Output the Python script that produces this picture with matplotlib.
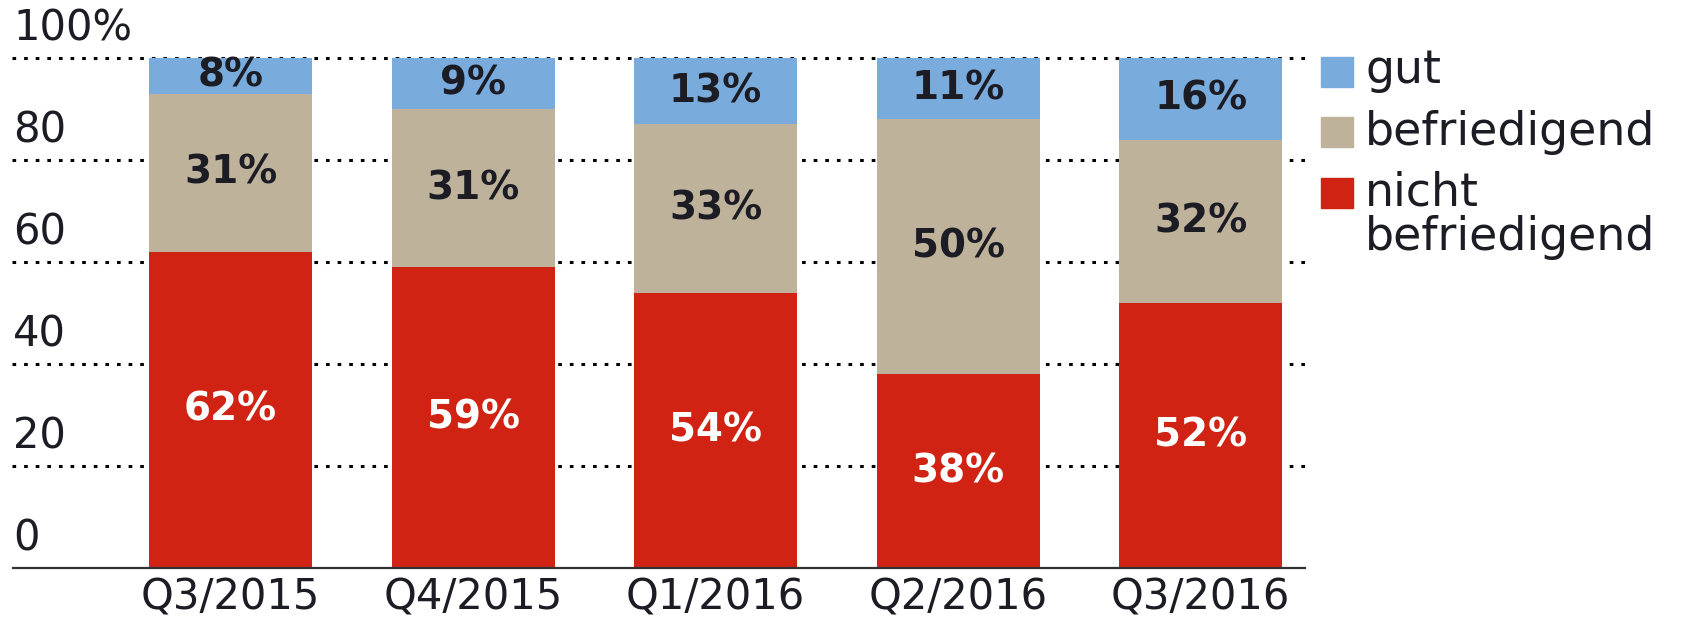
import matplotlib.pyplot as plt
from matplotlib.patches import Rectangle

plt.rcParams['font.family'] = 'DejaVu Sans'

quarters = ["Q3/2015", "Q4/2015", "Q1/2016", "Q2/2016", "Q3/2016"]
nicht = [62, 59, 54, 38, 52]
befr = [31, 31, 33, 50, 32]
gut = [8, 9, 13, 11, 16]

y_ticks = [0, 20, 40, 60, 80, 100]
y_labels = ["0", "20", "40", "60", "80", "100%"]

legend_labels = ["gut", "befriedigend", "nicht\nbefriedigend"]

c_gut = "#79abdc"
c_befr = "#bfb29b"
c_nicht = "#d02314"
txt = "#1c1c24"

W, H = 1688, 621
fig = plt.figure(figsize=(W / 100, H / 100), dpi=100)
ax = fig.add_axes([13 / W, 1 - 568 / H, (1305 - 13) / W, (568 - 58) / H])

x = list(range(len(quarters)))
bw = 0.672

# dotted grid behind the bars
ax.hlines(y_ticks[1:], -0.9, 4.43, colors="black", linewidth=2.2,
          linestyles=(0, (1.2, 2.6)), zorder=0, clip_on=False)

ax.bar(x, nicht, bw, color=c_nicht, zorder=2)
ax.bar(x, befr, bw, bottom=nicht, color=c_befr, zorder=2)
# top segment fills the bar up to 100 %
bot2 = [a + b for a, b in zip(nicht, befr)]
ax.bar(x, [100 - b for b in bot2], bw, bottom=bot2, color=c_gut, zorder=2)

for i in x:
    ax.text(i, nicht[i] / 2, f"{nicht[i]}%", ha="center", va="center",
            color="white", fontsize=28, fontweight="bold", zorder=3)
    ax.text(i, nicht[i] + befr[i] / 2, f"{befr[i]}%", ha="center", va="center",
            color=txt, fontsize=28, fontweight="bold", zorder=3)
    ax.text(i, (bot2[i] + 100) / 2, f"{gut[i]}%", ha="center", va="center",
            color=txt, fontsize=28, fontweight="bold", zorder=3)

ax.set_xlim(-0.897, 4.43)
ax.set_ylim(0, 100)

for s in ["top", "right", "left"]:
    ax.spines[s].set_visible(False)
ax.spines["bottom"].set_color("#333333")
ax.spines["bottom"].set_linewidth(1.6)
ax.spines["bottom"].set_zorder(4)

ax.set_yticks([])
ax.set_xticks(x)
ax.set_xticklabels(quarters, fontsize=30, color=txt)
ax.tick_params(axis="x", length=0, pad=6)

# y labels sit above the grid lines at the left
for v, lab in zip(y_ticks, y_labels):
    ax.text(0.0, v + 1.6, lab, transform=ax.get_yaxis_transform(),
            ha="left", va="bottom", fontsize=30, color=txt)

# legend drawn by hand
rows = [(57, 83), (117, 145), (178, 205)]
colors = [c_gut, c_befr, c_nicht]
for (top, base), col, lab in zip(rows, colors, legend_labels):
    fig.patches.append(Rectangle((1321 / W, 1 - (top + 30) / H), 32 / W, 30 / H,
                                 transform=fig.transFigure, color=col))
    for k, line in enumerate(lab.split("\n")):
        fig.text(1365 / W, 1 - (base + 45 * k) / H, line, ha="left",
                 va="baseline", fontsize=33, color=txt)

fig.savefig("out.png", dpi=100)
